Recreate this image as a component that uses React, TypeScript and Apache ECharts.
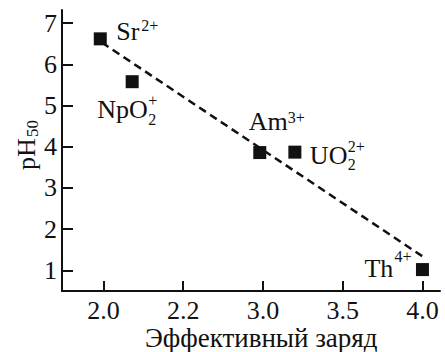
import React, { useEffect, useRef } from "react";
import * as echarts from "echarts";

// ---- data ----
const ions = ["Sr", "NpO", "Am", "UO", "Th"];
const supTexts = ["2+", "+", "3+", "2+", "4+"];
const subTexts = ["", "2", "", "2", ""];
const charges = [1.98, 2.18, 2.98, 3.2, 4.0];
const ph50 = [6.62, 5.58, 3.86, 3.87, 1.02];
const fitX = [1.99, 4.02];
const fitY = [6.53, 1.29];
const xTickValues = [2.0, 2.5, 3.0, 3.5, 4.0];
const xTickLabels = ["2.0", "2.2", "3.0", "3.5", "4.0"];
const yTickValues = [1, 2, 3, 4, 5, 6, 7];

// ---- label layout (pixel offsets from the point) ----
const labelLayout = [
  { main: [16, -7], sup: [41, -13], sub: [0, 0] },
  { main: [-35, 28], sup: [16, 19], sub: [16, 38] },
  { main: [-11, -31], sup: [28, -35], sub: [0, 0] },
  { main: [15, 3], sup: [53, -6], sub: [53, 12] },
  { main: [-58, -1], sup: [-28, -13], sub: [0, 0] },
];

const FONT = "Liberation Serif, Times New Roman, serif";
const INK = "#111111";

export default function App() {
  const ref = useRef<HTMLDivElement>(null);
  useEffect(() => {
    if (!ref.current) return;
    const chart = echarts.init(ref.current, undefined, { renderer: "svg" });
    const labelStyle = { fontSize: 26, fontFamily: FONT, color: INK };
    const option: any = {
      animation: false,
      backgroundColor: "#ffffff",
      textStyle: { fontFamily: FONT, color: INK },
      grid: { left: 62, right: 5, top: 10, bottom: 61, containLabel: false },
      xAxis: {
        type: "value",
        min: 1.74,
        max: 4.11,
        splitLine: { show: false },
        axisLine: { onZero: false, lineStyle: { color: INK, width: 2 } },
        axisTick: {
          show: true,
          inside: true,
          length: 10,
          customValues: xTickValues,
          lineStyle: { color: INK, width: 2 },
        },
        axisLabel: {
          customValues: xTickValues,
          margin: 6,
          ...labelStyle,
          formatter: (v: number) => {
            const i = xTickValues.findIndex((t) => Math.abs(t - v) < 1e-6);
            return i >= 0 ? xTickLabels[i] : "";
          },
        },
      },
      yAxis: {
        type: "value",
        min: 0.5,
        max: 7.32,
        splitLine: { show: false },
        axisLine: { onZero: false, lineStyle: { color: INK, width: 2 } },
        axisTick: {
          show: true,
          inside: true,
          length: 11,
          customValues: yTickValues,
          lineStyle: { color: INK, width: 2 },
        },
        axisLabel: {
          customValues: yTickValues,
          margin: 5,
          ...labelStyle,
          formatter: (v: number) => String(v),
        },
      },
      series: [
        {
          type: "line",
          data: fitX.map((x, i) => [x, fitY[i]]),
          symbol: "none",
          lineStyle: { color: INK, width: 2.5, type: [8, 5] },
          z: 2,
        },
        {
          type: "scatter",
          data: charges.map((x, i) => [x, ph50[i]]),
          symbol: "rect",
          symbolSize: 13,
          itemStyle: { color: INK, opacity: 1 },
          z: 3,
        },
      ],
    };
    chart.setOption(option);

    const graphics: any[] = [];
    const txt = (text: string, x: number, y: number, size: number, extra: any = {}) => ({
      type: "text",
      x,
      y,
      ...extra,
      style: {
        text,
        fontSize: size,
        fontFamily: FONT,
        fill: INK,
        textAlign: "left",
        textVerticalAlign: "middle",
      },
      z: 10,
    });
    charges.forEach((cx, i) => {
      const p = chart.convertToPixel({ gridIndex: 0 }, [cx, ph50[i]]) as number[];
      const L = labelLayout[i];
      graphics.push(txt(ions[i], p[0] + L.main[0], p[1] + L.main[1], 26));
      if (supTexts[i]) graphics.push(txt(supTexts[i], p[0] + L.sup[0], p[1] + L.sup[1], 16));
      if (subTexts[i]) graphics.push(txt(subTexts[i], p[0] + L.sub[0], p[1] + L.sub[1], 16));
    });
    // axis names
    graphics.push(txt("Эффективный заряд", 145, 338, 27));
    graphics.push(txt("pH", 26, 170, 26, { rotation: Math.PI / 2 }));
    graphics.push(txt("50", 32, 137, 17, { rotation: Math.PI / 2 }));
    chart.setOption({ graphic: graphics });

    return () => chart.dispose();
  }, []);
  return (
    <div
      ref={ref}
      style={{ position: "absolute", left: 0, top: 0, width: 445, height: 352 }}
    />
  );
}
